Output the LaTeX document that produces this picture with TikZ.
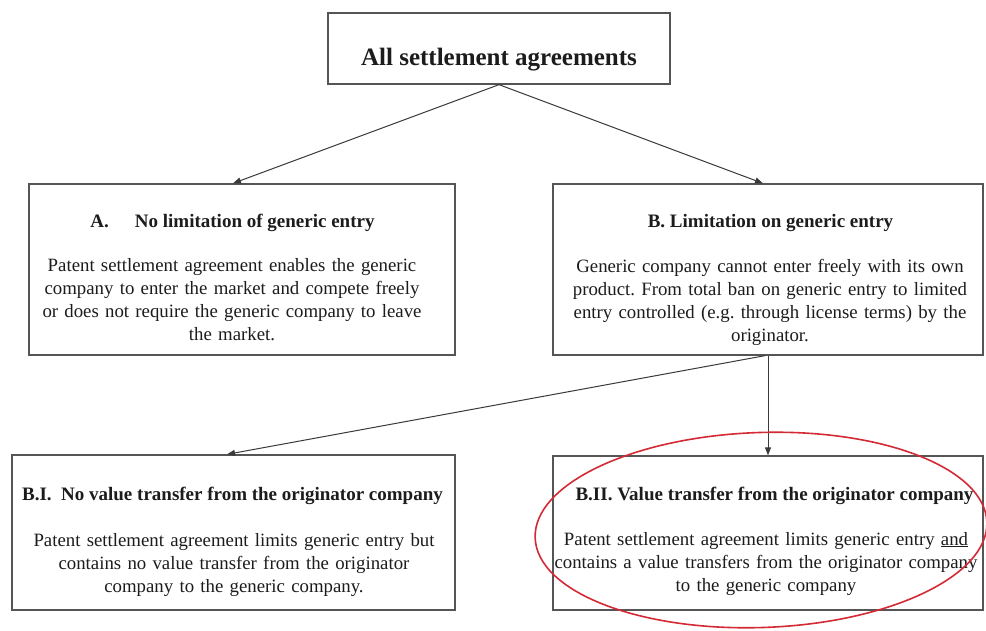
\documentclass[tikz,border=0pt]{standalone}
\usepackage{fontspec}
\setmainfont{Liberation Serif}
\usetikzlibrary{arrows.meta}
\definecolor{boxgray}{HTML}{555555}
\definecolor{linegray}{HTML}{3A3A3A}
\definecolor{inkc}{HTML}{1C1C1C}
\definecolor{ringred}{HTML}{D42A35}
\frenchspacing
\begin{document}
\begin{tikzpicture}[x=1pt,y=-1pt,
  box/.style={draw=boxgray,line width=1.3pt,inner sep=0pt,fill=none},
  ttl/.style={anchor=base,text=inkc,inner sep=0pt,font=\fontsize{19}{23}\selectfont\bfseries},
  bodytext/.style={anchor=base,text=inkc,inner sep=0pt,align=center,text width=440pt,font=\fontsize{18.8}{23}\selectfont\frenchspacing},
  conn/.style={draw=linegray,line width=1pt,-{Triangle[length=8pt,width=6pt]}}]
\clip (0,0) rectangle (986,630);
\fill[white] (0,0) rectangle (986,630);
% boxes
\node[box,minimum width=342pt,minimum height=71pt] (top) at (499,48.5) {};
\node[box,minimum width=426pt,minimum height=171pt] (A) at (242,269.5) {};
\node[box,minimum width=430pt,minimum height=171pt] (B) at (768,269.5) {};
\node[box,minimum width=443pt,minimum height=155pt] (BI) at (233.5,532.5) {};
\node[box,minimum width=430pt,minimum height=154pt] (BII) at (768,533) {};
% texts
\node[ttl,font=\fontsize{25}{30}\selectfont\bfseries] (ttop) at (499,65) {All settlement agreements};
\node[ttl] (tA) at (232.5,227) {A.\hspace{26pt}No limitation of generic entry};
\node[ttl] (tB) at (770.5,227) {B. Limitation on generic entry};
\node[bodytext] (bA) at (232,271) {Patent settlement agreement enables the generic\\company to enter the market and compete freely\\or does not require the generic company to leave\\the market.};
\node[bodytext] (bB) at (770,272) {Generic company cannot enter freely with its own\\product. From total ban on generic entry to limited\\entry controlled (e.g. through license terms) by the\\originator.};
\node[ttl] (tBI) at (232.5,500) {B.I.\ \ No value transfer from the originator company};
\node[ttl] (tBII) at (774.5,500) {B.II. Value transfer from the originator company};
\node[bodytext] (bBI) at (234,546) {Patent settlement agreement limits generic entry but\\contains no value transfer from the originator\\company to the generic company.};
\node[bodytext] (bBII) at (766,545) {Patent settlement agreement limits generic entry \underline{and}\\contains a value transfers from the originator company\\to the generic company};
% connectors
\draw[conn] (top.south) -- ([xshift=-9pt]A.north);
\draw[conn] (top.south) -- ([xshift=-5pt]B.north);
\draw[conn] ([xshift=-3pt]B.south) -- ([xshift=-6.5pt]BI.north);
\draw[conn] (B.south) -- (BII.north);
% highlight ring
\draw[ringred,line width=1.6pt,rotate around={2:(761,530)}] (761,530) ellipse [x radius=226, y radius=97.5];
\end{tikzpicture}
\end{document}
